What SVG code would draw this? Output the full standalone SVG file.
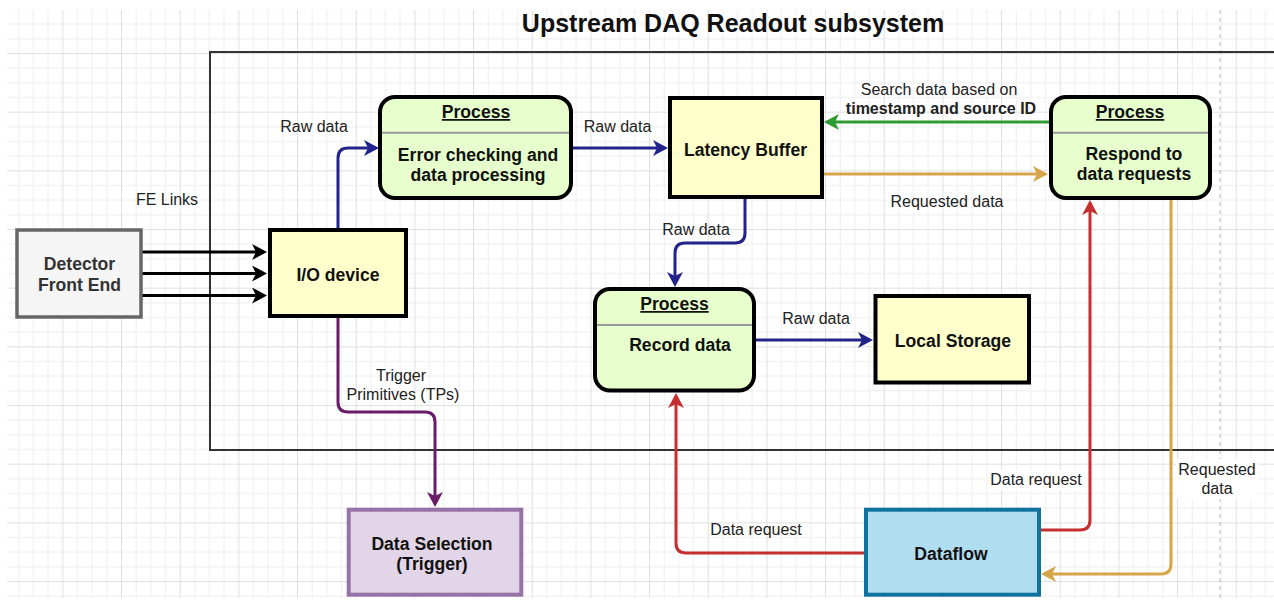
<svg xmlns="http://www.w3.org/2000/svg" width="1274" height="600" viewBox="0 0 1274 600">
  <style>
    .node-text { font-family: "Liberation Sans", Arial, sans-serif; font-size: 17.6px; font-weight: bold; fill: #111; text-anchor: middle; }
    .hdr { text-decoration: underline; }
    .label { font-family: "Liberation Sans", Arial, sans-serif; font-size: 16px; fill: #222; text-anchor: middle; }
    .bold { font-weight: bold; }
    .title { font-family: "Liberation Sans", Arial, sans-serif; font-size: 25px; font-weight: bold; fill: #111; text-anchor: middle; }
    .proc { fill: #e6ffcc; stroke: #000; stroke-width: 4; }
    .store { fill: #ffffcc; stroke: #000; stroke-width: 4; }
    .sep { stroke: #9a9a9a; stroke-width: 2; }
    .edge { fill: none; stroke-width: 3; }
    .blue { stroke: #23238c; }
    .green { stroke: #2f9a2f; }
    .gold { stroke: #d6a54b; }
    .red { stroke: #c52f2f; }
    .purple { stroke: #6a1b6a; }
    .black { stroke: #000; }
    .lbg { fill: #fff; }
  </style>
  <defs>
    <pattern id="grid" patternUnits="userSpaceOnUse" x="3.67" y="-5.67" width="58.67" height="58.67">
      <rect x="0" y="0" width="58.67" height="58.67" fill="#fff"/>
      <g fill="#efefef">
        <rect x="14.67" y="0" width="1" height="58.67"/>
        <rect x="29.33" y="0" width="1" height="58.67"/>
        <rect x="44" y="0" width="1" height="58.67"/>
        <rect x="0" y="14.67" width="58.67" height="1"/>
        <rect x="0" y="29.33" width="58.67" height="1"/>
        <rect x="0" y="44" width="58.67" height="1"/>
      </g>
      <g fill="#e0e0e0">
        <rect x="0" y="0" width="1" height="58.67"/>
        <rect x="0" y="0" width="58.67" height="1"/>
      </g>
    </pattern>
    <marker id="ah-black" markerUnits="userSpaceOnUse" markerWidth="16" markerHeight="16" refX="12" refY="8" orient="auto"><path d="M0,0 L15,8 L0,16 L4,8 z" fill="#000"/></marker>
    <marker id="ah-blue" markerUnits="userSpaceOnUse" markerWidth="16" markerHeight="16" refX="12" refY="8" orient="auto"><path d="M0,0 L15,8 L0,16 L4,8 z" fill="#23238c"/></marker>
    <marker id="ah-green" markerUnits="userSpaceOnUse" markerWidth="16" markerHeight="16" refX="12" refY="8" orient="auto"><path d="M0,0 L15,8 L0,16 L4,8 z" fill="#2f9a2f"/></marker>
    <marker id="ah-gold" markerUnits="userSpaceOnUse" markerWidth="16" markerHeight="16" refX="12" refY="8" orient="auto"><path d="M0,0 L15,8 L0,16 L4,8 z" fill="#d6a54b"/></marker>
    <marker id="ah-red" markerUnits="userSpaceOnUse" markerWidth="16" markerHeight="16" refX="12" refY="8" orient="auto"><path d="M0,0 L15,8 L0,16 L4,8 z" fill="#c52f2f"/></marker>
    <marker id="ah-purple" markerUnits="userSpaceOnUse" markerWidth="16" markerHeight="16" refX="12" refY="8" orient="auto"><path d="M0,0 L15,8 L0,16 L4,8 z" fill="#6a1b6a"/></marker>
  </defs>

  <!-- canvas background and grid -->
  <rect x="0" y="0" width="1274" height="600" fill="#fff"/>
  <rect x="7" y="10" width="1267" height="588" fill="url(#grid)"/>
  <line x1="1220" y1="10" x2="1220" y2="598" stroke="#b8b8b8" stroke-width="1" stroke-dasharray="4 4"/>

  <!-- title and subsystem boundary -->
  <text class="title" x="733" y="32">Upstream DAQ Readout subsystem</text>
  <rect id="subsystem" x="210" y="52" width="1120" height="398" fill="none" stroke="#333" stroke-width="2"/>

  <!-- connectors -->
  <g id="connectors">
    <path class="edge black" d="M142,252 H264" marker-end="url(#ah-black)"/>
    <path class="edge black" d="M142,273.5 H264" marker-end="url(#ah-black)"/>
    <path class="edge black" d="M142,295.5 H264" marker-end="url(#ah-black)"/>
    <path class="edge blue" d="M338,229 V158 Q338,148 348,148 H376" marker-end="url(#ah-blue)"/>
    <path class="edge blue" d="M573,148 H665" marker-end="url(#ah-blue)"/>
    <path class="edge blue" d="M745,199 V233 Q745,243 735,243 H685 Q675,243 675,253 V284" marker-end="url(#ah-blue)"/>
    <path class="edge blue" d="M756,340 H870" marker-end="url(#ah-blue)"/>
    <path class="edge green" d="M1049,122 H827" marker-end="url(#ah-green)"/>
    <path class="edge gold" d="M824,174 H1045" marker-end="url(#ah-gold)"/>
    <path class="edge purple" d="M338,318 V402 Q338,412 348,412 H425 Q435,412 435,422 V504" marker-end="url(#ah-purple)"/>
    <path class="edge red" d="M864,553 H686 Q676,553 676,543 V396" marker-end="url(#ah-red)"/>
    <path class="edge red" d="M1041,530 H1080 Q1090,530 1090,520 V203" marker-end="url(#ah-red)"/>
    <path class="edge gold" d="M1171,200 V564 Q1171,574 1161,574 H1044" marker-end="url(#ah-gold)"/>

    <!-- connector labels -->
    <text class="label" x="167" y="205">FE Links</text>
    <text class="label" x="314" y="131.5">Raw data</text>
    <text class="label" x="617.5" y="131.5">Raw data</text>
    <text class="label" x="696" y="235">Raw data</text>
    <text class="label" x="816" y="323.5">Raw data</text>
    <text class="label" x="939" y="95">Search data based on</text>
    <text class="label bold" x="941" y="114">timestamp and source ID</text>
    <text class="label" x="947" y="206.5">Requested data</text>
    <text class="label" x="401" y="381">Trigger</text>
    <text class="label" x="403" y="399.5">Primitives (TPs)</text>
    <text class="label" x="756" y="535">Data request</text>
    <rect class="lbg" x="988" y="470" width="96" height="20"/>
    <text class="label" x="1036" y="485">Data request</text>
    <rect class="lbg" x="1176" y="459" width="82" height="40"/>
    <text class="label" x="1217" y="475">Requested</text>
    <text class="label" x="1217" y="494">data</text>
  </g>

  <!-- nodes -->
  <g id="detector-front-end">
    <rect x="17" y="230" width="124" height="87" fill="#f5f5f5" stroke="#666" stroke-width="3.5"/>
    <text class="node-text" x="79.5" y="270" fill="#333" style="fill:#333">Detector</text>
    <text class="node-text" x="79.5" y="290.5" style="fill:#333">Front End</text>
  </g>

  <g id="io-device">
    <rect class="store" x="270" y="230" width="136" height="86"/>
    <text class="node-text" x="338" y="281">I/O device</text>
  </g>

  <g id="process-error-checking">
    <rect class="proc" x="380" y="97" width="191" height="101" rx="15"/>
    <line class="sep" x1="382" y1="132.7" x2="569" y2="132.7"/>
    <text class="node-text hdr" x="476" y="118">Process</text>
    <text class="node-text" x="478" y="160.5">Error checking and</text>
    <text class="node-text" x="478" y="180.5">data processing</text>
  </g>

  <g id="latency-buffer">
    <rect class="store" x="670" y="98" width="152" height="99"/>
    <text class="node-text" x="745.5" y="156">Latency Buffer</text>
  </g>

  <g id="process-respond">
    <rect class="proc" x="1051" y="97" width="159" height="101" rx="15"/>
    <line class="sep" x1="1053" y1="132.7" x2="1208" y2="132.7"/>
    <text class="node-text hdr" x="1130" y="118">Process</text>
    <text class="node-text" x="1134" y="160">Respond to</text>
    <text class="node-text" x="1134" y="179.5">data requests</text>
  </g>

  <g id="process-record">
    <rect class="proc" x="595" y="289" width="159" height="101.5" rx="15"/>
    <line class="sep" x1="597" y1="325" x2="752" y2="325"/>
    <text class="node-text hdr" x="674.5" y="310">Process</text>
    <text class="node-text" x="680" y="350.5">Record data</text>
  </g>

  <g id="local-storage">
    <rect class="store" x="875.5" y="296" width="153.5" height="86.5"/>
    <text class="node-text" x="953" y="346.5">Local Storage</text>
  </g>

  <g id="data-selection">
    <rect x="348.7" y="509.7" width="172.6" height="85" fill="#e1d5e7" stroke="#9673a6" stroke-width="4"/>
    <text class="node-text" x="432" y="550">Data Selection</text>
    <text class="node-text" x="432" y="570">(Trigger)</text>
  </g>

  <g id="dataflow">
    <rect x="866" y="509.7" width="173" height="85" fill="#b1ddf0" stroke="#10739e" stroke-width="4"/>
    <text class="node-text" x="951" y="560">Dataflow</text>
  </g>
</svg>
